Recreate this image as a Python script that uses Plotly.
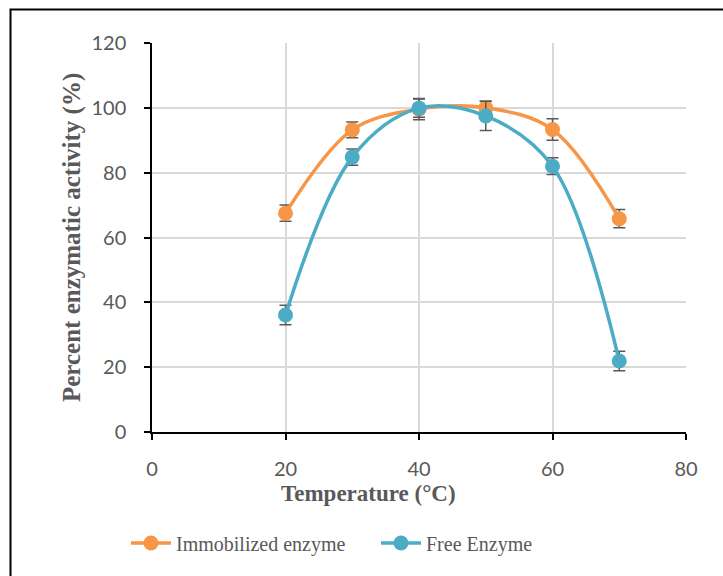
import plotly.graph_objects as go

# Temperature profile of immobilized vs. free enzyme
temperature = [20, 30, 40, 50, 60, 70]
immobilized = [67.5, 93.2, 99.6, 100.0, 93.3, 65.8]
immobilized_err = [2.5, 2.4, 3.3, 2.0, 3.3, 2.8]
free = [36.1, 84.8, 99.9, 97.5, 82.0, 21.9]
free_err = [3.0, 2.5, 2.8, 4.5, 2.6, 3.0]

x_ticks = [0, 20, 40, 60, 80]
y_ticks = [0, 20, 40, 60, 80, 100, 120]

ORANGE = "#F79646"
BLUE = "#4BACC6"
ERR = "#595959"
GREY_TXT = "#595959"
SERIF = "Liberation Serif, Times New Roman, serif"
SANS = "Lato, Open Sans, sans-serif"

fig = go.Figure()

def add_series(y, err, name, color, legend):
    fig.add_trace(go.Scatter(
        x=temperature, y=y, name=name, mode="lines+markers",
        legend=legend,
        line=dict(color=color, width=3.5, shape="spline", smoothing=1.0),
        marker=dict(color=color, size=15, symbol="circle"),
        error_y=dict(type="data", array=err, visible=True,
                     color=ERR, thickness=1.5, width=6),
    ))

add_series(immobilized, immobilized_err, "Immobilized enzyme", ORANGE, "legend")
add_series(free, free_err, "Free Enzyme", BLUE, "legend2")

L, R, T, B = 152, 37, 43, 144
W, H = 723, 576
pw, ph = W - L - R, H - T - B

def px_x(p):
    return (p - L) / pw

def px_y(p):
    return (H - B - p) / ph

axis_common = dict(
    showgrid=True, gridcolor="#D9D9D9", gridwidth=1.5,
    showline=True, linecolor="black", linewidth=1.5,
    zeroline=False, ticks="outside", ticklen=6, tickwidth=1.5,
    tickcolor="black",
    tickfont=dict(family=SANS, size=20, color=GREY_TXT),
)

fig.update_xaxes(range=[0, 80], tickvals=x_ticks, ticklabelstandoff=12,
                 **axis_common)
fig.update_yaxes(range=[0, 120], tickvals=y_ticks, ticklabelstandoff=14,
                 **axis_common)

# Outer chart frame
fig.add_shape(type="rect", xref="paper", yref="paper",
              x0=px_x(10.5), x1=px_x(760), y0=px_y(620), y1=px_y(9.5),
              line=dict(color="black", width=2), fillcolor="rgba(0,0,0,0)",
              layer="above")

fig.add_annotation(text="<b>Percent enzymatic activity (%)</b>",
                   xref="paper", yref="paper", x=px_x(72), y=px_y(238),
                   xanchor="center", yanchor="middle", textangle=-90,
                   showarrow=False,
                   font=dict(family=SERIF, size=25, color=GREY_TXT))
fig.add_annotation(text="<b>Temperature (°C)</b>",
                   xref="paper", yref="paper", x=px_x(368), y=px_y(493),
                   xanchor="center", yanchor="middle", showarrow=False,
                   font=dict(family=SERIF, size=23, color=GREY_TXT))

legend_style = dict(orientation="h", xanchor="left", yanchor="middle",
                    y=px_y(543),
                    font=dict(family=SERIF, size=20, color=GREY_TXT),
                    bgcolor="rgba(0,0,0,0)", itemwidth=40)

fig.update_layout(
    width=W, height=H,
    margin=dict(l=L, r=R, t=T, b=B, autoexpand=False),
    paper_bgcolor="white", plot_bgcolor="white",
    showlegend=True,
    legend=dict(x=px_x(126), **legend_style),
    legend2=dict(x=px_x(376), **legend_style),
)

fig.write_html("out.html")
